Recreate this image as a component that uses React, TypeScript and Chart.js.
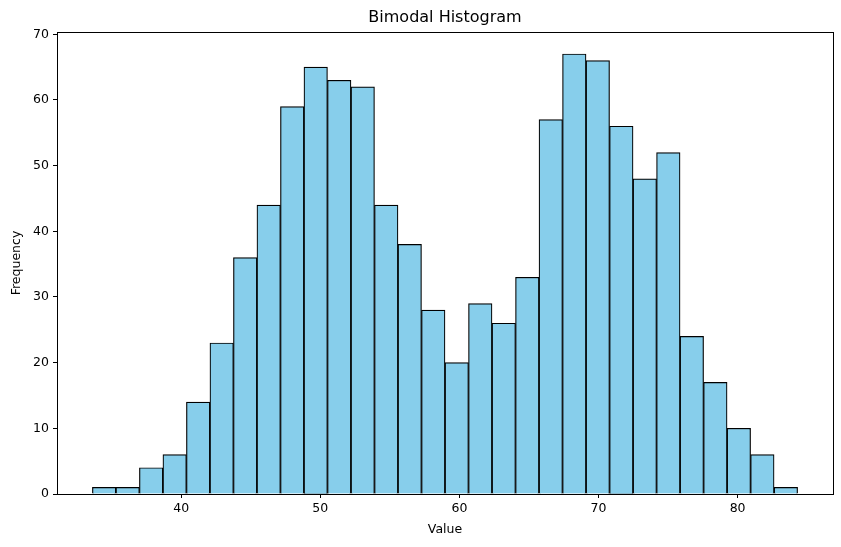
import React, { useEffect, useRef } from "react";
import { Chart, registerables } from "chart.js";

Chart.register(...registerables);

const binCenters = [
  34.46, 36.15, 37.84, 39.53, 41.22, 42.91, 44.6, 46.29, 47.98, 49.67,
  51.36, 53.05, 54.74, 56.43, 58.12, 59.81, 61.5, 63.19, 64.88, 66.57,
  68.26, 69.95, 71.64, 73.33, 75.02, 76.71, 78.4, 80.09, 81.78, 83.47,
];
const counts = [
  1, 1, 4, 6, 14, 23, 36, 44, 59, 65, 63, 62, 44, 38, 28, 20, 29, 26, 33, 57,
  67, 66, 56, 48, 52, 24, 17, 10, 6, 1,
];
const xTicks = [40, 50, 60, 70, 80];
const yTicks = [0, 10, 20, 30, 40, 50, 60, 70];
const titleText = "Bimodal Histogram";
const xLabel = "Value";
const yLabel = "Frequency";

const FONT = "'DejaVu Sans', sans-serif";

export default function App() {
  const ref = useRef<HTMLCanvasElement | null>(null);
  useEffect(() => {
    document.body.style.margin = "0";
    const canvas = ref.current!;
    const framePlugin = {
      id: "frame",
      afterDraw(chart: any) {
        const { ctx, chartArea } = chart;
        ctx.save();
        ctx.strokeStyle = "#000";
        ctx.lineWidth = 1;
        ctx.strokeRect(
          Math.round(chartArea.left) + 0.5,
          Math.round(chartArea.top) + 0.5,
          Math.round(chartArea.right - chartArea.left),
          Math.round(chartArea.bottom - chartArea.top)
        );
        ctx.fillStyle = "#000";
        ctx.textAlign = "center";
        ctx.textBaseline = "middle";
        ctx.font = `16px ${FONT}`;
        const cx = (chartArea.left + chartArea.right) / 2;
        ctx.fillText(titleText, cx, 18);
        ctx.font = `12.5px ${FONT}`;
        ctx.fillText(xLabel, cx, 530);
        ctx.translate(16.5, (chartArea.top + chartArea.bottom) / 2);
        ctx.rotate(-Math.PI / 2);
        ctx.fillText(yLabel, 0, 0);
        ctx.restore();
      },
    };
    const chart = new Chart(canvas, {
      type: "bar",
      data: {
        datasets: [
          {
            data: binCenters.map((x, i) => ({ x, y: counts[i] })),
            backgroundColor: "#87CEEB",
            borderColor: "#000",
            borderWidth: 1.2,
            barPercentage: 1,
            categoryPercentage: 1,
          },
        ],
      },
      options: {
        responsive: false,
        animation: false,
        layout: { padding: { top: 32, right: 8, left: 0, bottom: 0 } },
        plugins: {
          legend: { display: false },
          title: { display: false },
          tooltip: { enabled: false },
        },
        scales: {
          x: {
            type: "linear",
            min: 31.07,
            max: 86.86,
            offset: false,
            grid: {
              display: true,
              drawOnChartArea: false,
              drawTicks: true,
              tickLength: 4,
              color: "#000",
              offset: false,
            },
            border: { display: false },
            ticks: {
              color: "#000",
              font: { family: FONT, size: 12.5 },
              padding: 3,
              maxRotation: 0,
            },
            afterBuildTicks: (axis: any) => {
              axis.ticks = xTicks.map((v) => ({ value: v }));
            },
            afterFit: (axis: any) => {
              axis.height = 53;
            },
          },
          y: {
            type: "linear",
            min: 0,
            max: 70.35,
            grid: {
              display: true,
              drawOnChartArea: false,
              drawTicks: true,
              tickLength: 4,
              color: "#000",
            },
            border: { display: false },
            ticks: {
              color: "#000",
              font: { family: FONT, size: 12.5 },
              padding: 4,
            },
            afterBuildTicks: (axis: any) => {
              axis.ticks = yTicks.map((v) => ({ value: v }));
            },
            afterFit: (axis: any) => {
              axis.width = 57;
            },
          },
        },
      },
      plugins: [framePlugin],
    } as any);
    return () => chart.destroy();
  }, []);
  return <canvas ref={ref} width={841} height={547} style={{ display: "block" }} />;
}
